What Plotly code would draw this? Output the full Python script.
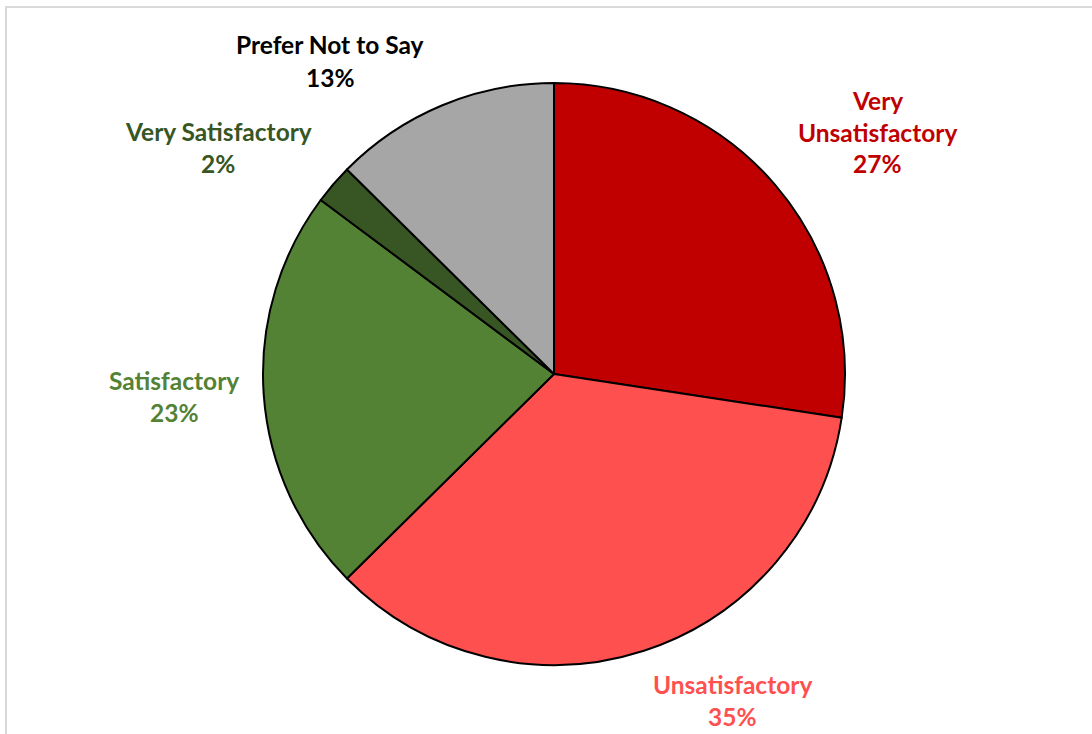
import plotly.graph_objects as go

# ---- data ----
categories = ["Very Unsatisfactory", "Unsatisfactory", "Satisfactory", "Very Satisfactory", "Prefer Not to Say"]
values = [27.4, 35.2, 22.6, 2.2, 12.6]
label_lines = [["Very", "Unsatisfactory"], ["Unsatisfactory"], ["Satisfactory"], ["Very Satisfactory"], ["Prefer Not to Say"]]

# ---- styles ----
slice_colors = ["#C00000", "#FF5050", "#548235", "#375623", "#A6A6A6"]
text_colors = ["#C00000", "#FF5050", "#548235", "#375623", "#000000"]
# label block anchor (x center px, y of first line center px)
label_pos = [(877, 100), (733, 684), (174, 380), (218, 131), (330, 45)]
LINE_GAP = 32
FONT = "Lato"
FONT_SIZE = 24.5
W, H = 1092, 734

cx, cy, r = 554, 374, 291

fig = go.Figure(go.Pie(
    labels=categories,
    values=values,
    sort=False,
    direction="clockwise",
    rotation=0,
    marker=dict(colors=slice_colors, line=dict(color="#000000", width=2)),
    textinfo="none",
    hoverinfo="label+percent",
    showlegend=False,
    domain=dict(x=[(cx - r) / W, (cx + r) / W], y=[(H - cy - r) / H, (H - cy + r) / H]),
))

total = sum(values)
annotations = []
for name_lines, v, col, (px, py) in zip(label_lines, values, text_colors, label_pos):
    lines = name_lines + [f"{v / total * 100:.0f}%"]
    for i, t in enumerate(lines):
        annotations.append(dict(
            text=f"<b>{t}</b>", x=px / W, y=1 - (py + i * LINE_GAP) / H,
            xref="paper", yref="paper", xanchor="center", yanchor="middle",
            showarrow=False, font=dict(family=FONT, size=FONT_SIZE, color=col),
        ))

fig.update_layout(
    width=W, height=H,
    margin=dict(l=0, r=0, t=0, b=0),
    paper_bgcolor="white",
    plot_bgcolor="white",
    annotations=annotations,
    shapes=[dict(type="rect", xref="paper", yref="paper",
                 x0=6 / W, x1=1.05, y0=-0.05, y1=1 - 7 / H,
                 line=dict(color="#D9D9D9", width=2), fillcolor="rgba(0,0,0,0)", layer="below")],
)

fig.write_html("out.html", config={"displayModeBar": False},
               post_script="document.body.style.margin='0';document.body.style.overflow='hidden';")
